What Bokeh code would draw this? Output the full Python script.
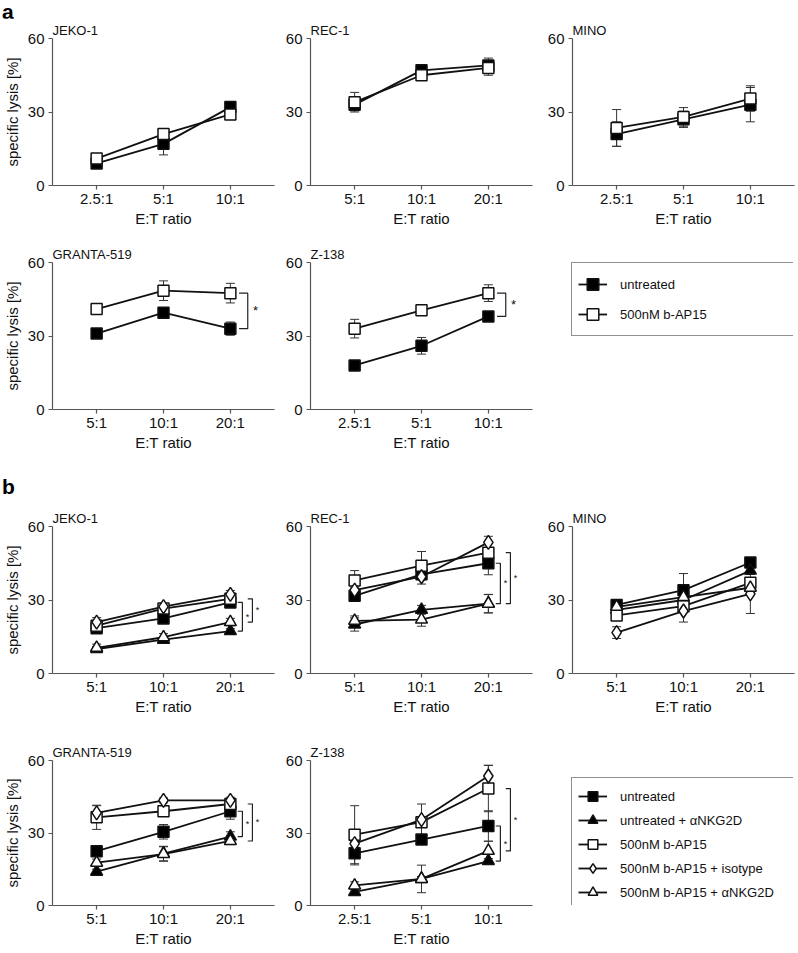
from bokeh.plotting import figure
from bokeh.layouts import column, row
from bokeh.models import (ColumnDataSource, Range1d, FixedTicker, Whisker, TeeHead,
                          Legend, LegendItem, Div)
from bokeh.core.properties import value
from bokeh.embed import file_html
from bokeh.resources import INLINE

FONT = "Liberation Sans"

# ---------------------------------------------------------------- data
Y_TICKS = [0, 30, 60]
Y_MIN, Y_MAX = 0, 60

ratios_25_10 = ["2.5:1", "5:1", "10:1"]
ratios_5_20 = ["5:1", "10:1", "20:1"]

U = "untreated"
UN = "untreated + \u03b1NKG2D"
B = "500nM b-AP15"
BI = "500nM b-AP15 + isotype"
BN = "500nM b-AP15 + \u03b1NKG2D"

# ---- panel a
a_jeko_u = [9, 17, 32];        a_jeko_u_sd = [1, 4.5, 1.5]
a_jeko_b = [11, 21, 29];       a_jeko_b_sd = [1, 1, 1]
a_rec_u = [33, 47, 49];        a_rec_u_sd = [2.5, 1, 3]
a_rec_b = [34, 45, 48];        a_rec_b_sd = [4, 1, 3]
a_mino_u = [21, 27, 33];       a_mino_u_sd = [5, 3.3, 7]
a_mino_b = [23.5, 28, 35.5];   a_mino_b_sd = [7.5, 3.8, 5.2]
a_granta_u = [31, 39.5, 33];   a_granta_u_sd = [1, 1, 2.7]
a_granta_b = [41, 48.5, 47.5]; a_granta_b_sd = [1, 4, 4]
a_z138_u = [18, 26, 38];       a_z138_u_sd = [2, 3.4, 1]
a_z138_b = [33, 40.5, 47.5];   a_z138_b_sd = [3.8, 1, 3.4]

# ---- panel b
b_jeko_u = [18.5, 22.5, 29];   b_jeko_u_sd = [2, 1, 1.8]
b_jeko_un = [10, 13.8, 17.3];  b_jeko_un_sd = [1, 1, 1]
b_jeko_b = [19.5, 26.5, 30.5]; b_jeko_b_sd = [1.5, 1, 1.5]
b_jeko_bi = [21, 27.3, 32.3];  b_jeko_bi_sd = [1.8, 1, 1.6]
b_jeko_bn = [10.5, 14.8, 21];  b_jeko_bn_sd = [1.5, 1.5, 1.5]

b_rec_u = [31.7, 40.5, 45];    b_rec_u_sd = [1.5, 1.5, 4.7]
b_rec_un = [20, 26, 28.5];     b_rec_un_sd = [2.7, 1.8, 3.7]
b_rec_b = [38, 44, 49.3];      b_rec_b_sd = [4, 5.8, 1.5]
b_rec_bi = [34, 39.5, 53.5];   b_rec_bi_sd = [1, 3, 2.5]
b_rec_bn = [21.5, 22, 28.5];   b_rec_bn_sd = [2, 2.7, 3.8]

b_mino_u = [28, 34, 45.3];     b_mino_u_sd = [1, 6.8, 1]
b_mino_un = [26, 30, 42];      b_mino_un_sd = [1, 1.5, 1.5]
b_mino_b = [23.7, 27.5, 37];   b_mino_b_sd = [1.5, 1.5, 2]
b_mino_bi = [16.7, 25.5, 32.5]; b_mino_bi_sd = [2.4, 4.5, 8]
b_mino_bn = [27.2, 31.2, 35];  b_mino_bn_sd = [1, 1.5, 2]

b_granta_u = [22.5, 30.5, 39];   b_granta_u_sd = [1, 3, 3.3]
b_granta_un = [14, 21.5, 28.5];  b_granta_un_sd = [1, 3, 2]
b_granta_b = [36.5, 39, 42];     b_granta_b_sd = [5, 1, 1.5]
b_granta_bi = [38.3, 43.5, 43.5]; b_granta_bi_sd = [3, 1, 1.3]
b_granta_bn = [17.7, 21.3, 26.7]; b_granta_bn_sd = [1.5, 3, 1.5]

b_z138_u = [21.6, 27.3, 32.9];  b_z138_u_sd = [4.8, 1, 6.3]
b_z138_un = [5.6, 11, 18.4];    b_z138_un_sd = [1, 1, 1]
b_z138_b = [29.3, 34.5, 48.4];  b_z138_b_sd = [12, 1.5, 9.6]
b_z138_bi = [25.6, 35.5, 53.6]; b_z138_bi_sd = [1.5, 6.5, 4.4]
b_z138_bn = [8.3, 11, 22.6];    b_z138_bn_sd = [1.5, 5.7, 4]

# significance comparisons (upper series, lower series) at the highest ratio
sig_a = [(B, U)]
sig_b = [(U, UN), (B, BN)]

# ---------------------------------------------------------------- styles
STYLE = {
    U:  dict(marker="square", fill="black", size=11),
    UN: dict(marker="triangle", fill="black", size=12),
    B:  dict(marker="square", fill="white", size=11),
    BI: dict(marker="diamond", fill="white", size=14),
    BN: dict(marker="triangle", fill="white", size=12),
}
AX = "#555555"
INK = "#111111"
COLS = [(49, 222, 8), (27, 222, 12), (27, 222, 7)]
# (top border, frame height, bottom border)
ROWS = [(38, 147, 45), (32, 147, 45), (72, 147, 45), (42, 145, 45)]
XPAD = 0.66


def base_fig(col, rowg, title=None, top=None):
    lb, fw, rb = COLS[col]
    tb, fh, bb = rowg
    if top is not None:
        tb = top
    p = figure(frame_width=fw, frame_height=fh,
               min_border_left=lb, min_border_right=rb,
               min_border_top=tb, min_border_bottom=bb,
               x_range=Range1d(-XPAD, 2 + XPAD), y_range=Range1d(Y_MIN, Y_MAX),
               toolbar_location=None, output_backend="svg")
    p.outline_line_color = None
    p.xgrid.visible = False
    p.ygrid.visible = False
    p.background_fill_color = "white"
    p.border_fill_color = "white"
    if title:
        p.title.text = title
        p.title.align = "left"
        p.title.text_font = FONT
        p.title.text_font_size = "13px"
        p.title.text_font_style = "normal"
        p.title.text_color = INK
        p.title.standoff = 2
    return p


def make_panel(title, ratios, series, sig, col, rowg, kind, ylabel=False, top=None):
    p = base_fig(col, rowg, title, top)
    xs = list(range(len(ratios)))
    p.x_range.end = xs[-1] + XPAD

    p.xaxis.ticker = FixedTicker(ticks=xs)
    p.xaxis.major_label_overrides = {i: r for i, r in enumerate(ratios)}
    p.yaxis.ticker = FixedTicker(ticks=Y_TICKS)
    for ax in p.axis:
        ax.axis_line_color = AX
        ax.axis_line_width = 1.2
        ax.major_tick_line_color = AX
        ax.major_tick_line_width = 1.2
        ax.major_tick_out = 4
        ax.major_tick_in = 0
        ax.minor_tick_out = 0
        ax.minor_tick_in = 0
        ax.major_label_text_font = FONT
        ax.major_label_text_font_size = "15px"
        ax.major_label_text_color = INK
        ax.axis_label_text_font = FONT
        ax.axis_label_text_font_size = "15px"
        ax.axis_label_text_font_style = "normal"
        ax.axis_label_text_color = INK
    p.xaxis.axis_label = "E:T ratio"
    p.xaxis.major_label_standoff = 0
    p.xaxis.axis_label_standoff = 0
    p.yaxis.major_label_standoff = 4
    if ylabel:
        p.yaxis.axis_label = "specific lysis [%]"
        p.yaxis.axis_label_standoff = 4

    srcs = []
    for name, vals, sd in series:
        src = ColumnDataSource(dict(
            x=xs, y=vals,
            lo=[v - s for v, s in zip(vals, sd)],
            hi=[v + s for v, s in zip(vals, sd)]))
        srcs.append((name, src))
        p.add_layout(Whisker(source=src, base="x", lower="lo", upper="hi",
                             dimension="height", line_color="#333333", line_width=1,
                             upper_head=TeeHead(size=9, line_color="#333333", line_width=1),
                             lower_head=TeeHead(size=9, line_color="#333333", line_width=1)))
    for name, src in srcs:
        p.line("x", "y", source=src, line_color=INK, line_width=1.8)
    for name, src in srcs:
        st = STYLE[name]
        p.scatter("x", "y", source=src, marker=st["marker"], size=st["size"],
                  fill_color=st["fill"], line_color=INK, line_width=1.5)

    # significance brackets
    last = {name: vals[-1] for name, vals, sd in series}
    if kind == "a":
        dxs, arm, adx, afs = [0.26], 0.13, 0.08, "13px"
    else:
        dxs, arm, adx, afs = [0.18, 0.33], 0.07, 0.05, "9px"
    for k, (top_name, bot_name) in enumerate(sig):
        top_v, bot_v = last[top_name], last[bot_name]
        bx = xs[-1] + dxs[k]
        p.multi_line(xs=[[bx - arm, bx, bx, bx - arm]], ys=[[top_v, top_v, bot_v, bot_v]],
                     line_color="#222222", line_width=1.2)
        p.text(x=[bx + adx], y=[(top_v + bot_v) / 2], text=["*"],
               text_font=value(FONT), text_font_size=value(afs),
               text_align="left", text_baseline="middle", text_color=INK)
    return p


def legend_fig(col, rowg, entries, location, glyph_h):
    p = base_fig(col, rowg)
    p.xaxis.visible = False
    p.yaxis.visible = False
    items = []
    for name, vals in entries:
        st = STYLE[name]
        src = ColumnDataSource(dict(x=list(range(len(vals))), y=vals))
        lr = p.line("x", "y", source=src, line_color=INK, line_width=1.8, visible=False)
        sr = p.scatter("x", "y", source=src, marker=st["marker"], size=st["size"],
                       fill_color=st["fill"], line_color=INK, line_width=1.5, visible=False)
        items.append(LegendItem(label=value(name), renderers=[lr, sr]))
    leg = Legend(items=items, location=location, margin=0, padding=6, spacing=0,
                 glyph_width=29, glyph_height=glyph_h, label_standoff=13,
                 label_width=170, label_height=glyph_h,
                 label_text_font=FONT, label_text_font_size="13px", label_text_color=INK,
                 border_line_color="#222222", border_line_width=1.2,
                 background_fill_color="white", background_fill_alpha=1.0)
    p.add_layout(leg)
    return p


def letter_div(letter, height, pad_top):
    width = sum(COLS[0])
    return Div(text=letter, width=width, height=height, margin=(0, 0, 0, 0),
               styles={"font-family": FONT, "font-size": "21px", "font-weight": "bold",
                       "line-height": "18px", "padding-top": f"{pad_top}px",
                       "padding-left": "2px", "color": "black", "overflow": "visible",
                       "box-sizing": "border-box"})


# ---------------------------------------------------------------- panels
A_DIV_H = 18
a_jeko = make_panel("JEKO-1", ratios_25_10,
                    [(U, a_jeko_u, a_jeko_u_sd), (B, a_jeko_b, a_jeko_b_sd)], [], 0, ROWS[0], "a",
                    True, top=ROWS[0][0] - A_DIV_H)
r1 = [
    column(letter_div("a", A_DIV_H, 3), a_jeko, spacing=0),
    make_panel("REC-1", ratios_5_20,
               [(U, a_rec_u, a_rec_u_sd), (B, a_rec_b, a_rec_b_sd)], [], 1, ROWS[0], "a"),
    make_panel("MINO", ratios_25_10,
               [(U, a_mino_u, a_mino_u_sd), (B, a_mino_b, a_mino_b_sd)], [], 2, ROWS[0], "a"),
]

r2 = [
    make_panel("GRANTA-519", ratios_5_20,
               [(U, a_granta_u, a_granta_u_sd), (B, a_granta_b, a_granta_b_sd)], sig_a, 0, ROWS[1], "a", True),
    make_panel("Z-138", ratios_25_10,
               [(U, a_z138_u, a_z138_u_sd), (B, a_z138_b, a_z138_b_sd)], sig_a, 1, ROWS[1], "a"),
    legend_fig(2, ROWS[1], [(U, a_z138_u), (B, a_z138_b)], "top_left", 30),
]

def b_series(u, usd, un, unsd, b, bsd, bi, bisd, bn, bnsd):
    return [(U, u, usd), (UN, un, unsd), (B, b, bsd), (BI, bi, bisd), (BN, bn, bnsd)]

B_DIV_H = 44
b_jeko = make_panel("JEKO-1", ratios_5_20,
                    b_series(b_jeko_u, b_jeko_u_sd, b_jeko_un, b_jeko_un_sd, b_jeko_b, b_jeko_b_sd,
                             b_jeko_bi, b_jeko_bi_sd, b_jeko_bn, b_jeko_bn_sd), sig_b, 0, ROWS[2], "b",
                    True, top=ROWS[2][0] - B_DIV_H)
r3 = [
    column(letter_div("b", B_DIV_H, 24), b_jeko, spacing=0),
    make_panel("REC-1", ratios_5_20,
               b_series(b_rec_u, b_rec_u_sd, b_rec_un, b_rec_un_sd, b_rec_b, b_rec_b_sd,
                        b_rec_bi, b_rec_bi_sd, b_rec_bn, b_rec_bn_sd), sig_b, 1, ROWS[2], "b"),
    make_panel("MINO", ratios_5_20,
               b_series(b_mino_u, b_mino_u_sd, b_mino_un, b_mino_un_sd, b_mino_b, b_mino_b_sd,
                        b_mino_bi, b_mino_bi_sd, b_mino_bn, b_mino_bn_sd), [], 2, ROWS[2], "b"),
]

r4 = [
    make_panel("GRANTA-519", ratios_5_20,
               b_series(b_granta_u, b_granta_u_sd, b_granta_un, b_granta_un_sd, b_granta_b, b_granta_b_sd,
                        b_granta_bi, b_granta_bi_sd, b_granta_bn, b_granta_bn_sd), sig_b, 0, ROWS[3], "b", True),
    make_panel("Z-138", ratios_25_10,
               b_series(b_z138_u, b_z138_u_sd, b_z138_un, b_z138_un_sd, b_z138_b, b_z138_b_sd,
                        b_z138_bi, b_z138_bi_sd, b_z138_bn, b_z138_bn_sd), sig_b, 1, ROWS[3], "b"),
    legend_fig(2, ROWS[3], [(U, b_z138_u), (UN, b_z138_un), (B, b_z138_b),
                            (BI, b_z138_bi), (BN, b_z138_bn)], (0, -6), 24),
]

layout = column(row(*r1, spacing=0), row(*r2, spacing=0), row(*r3, spacing=0),
                row(*r4, spacing=0), spacing=0)

open("out.html", "w").write(file_html(layout, INLINE))
